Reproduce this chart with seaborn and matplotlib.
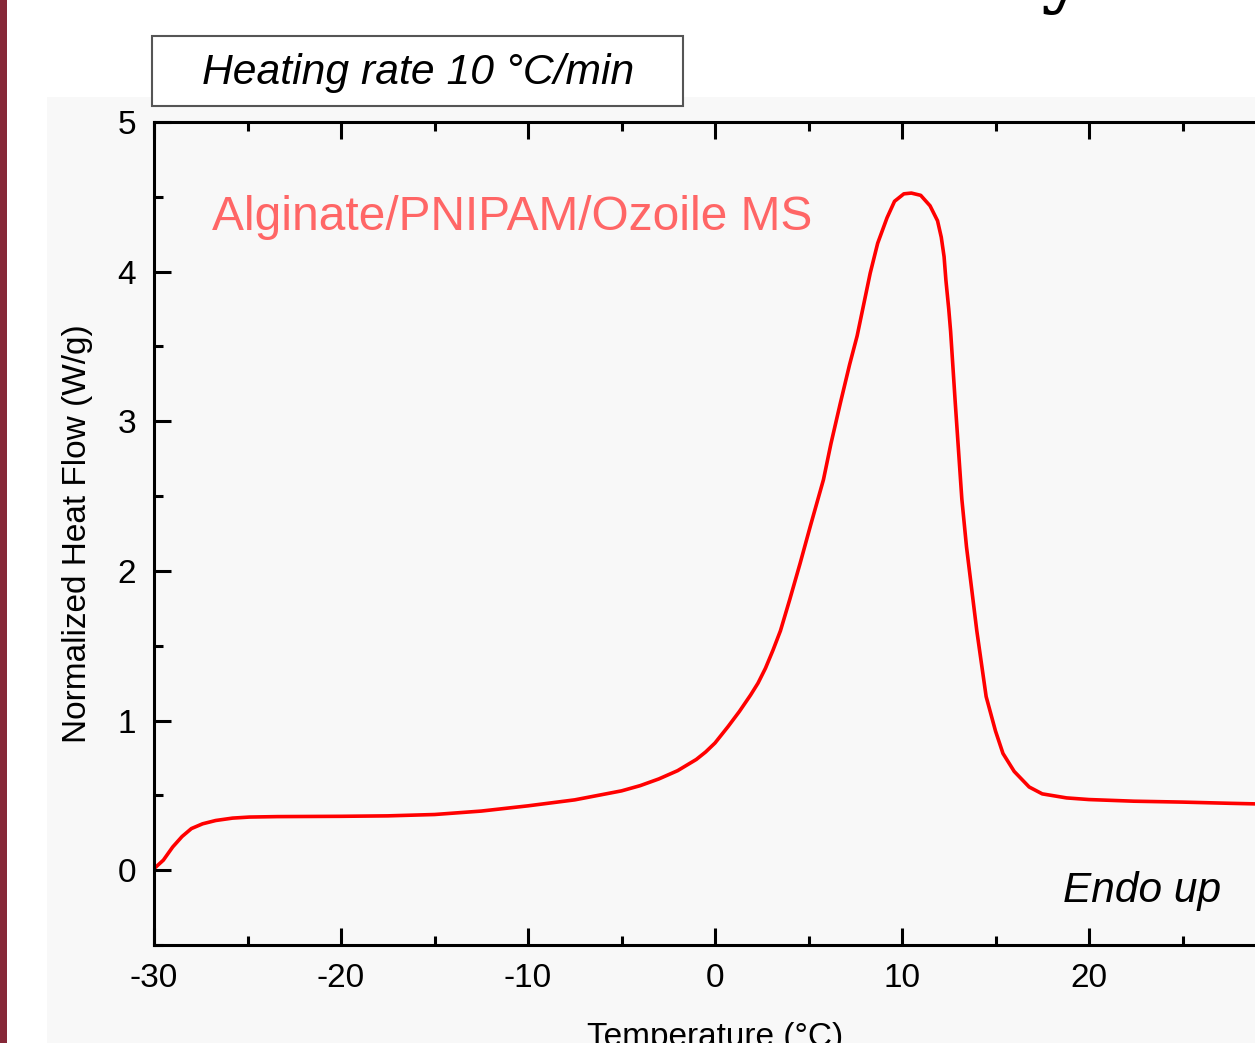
import pandas as pd
import seaborn as sns
import matplotlib.pyplot as plt
from matplotlib.patches import Rectangle
from matplotlib.ticker import MultipleLocator

# DSC curve (Temperature in C, heat flow in W/g)
temp = [-30, -29.5, -29.0, -28.5, -28.0, -27.4, -26.7, -25.8, -24.9, -23.4,
        -20, -17.5, -15, -12.5, -10, -7.5, -5, -4, -3, -2,
        -1, -0.5, 0, 0.7, 1.3, 1.9, 2.3, 2.7, 3.1, 3.5, 4.0, 4.55,
        5.1, 5.8, 6.2, 6.7, 7.2, 7.6, 7.9, 8.3, 8.7, 9.2,
        9.6, 10.1, 10.5, 11.0, 11.5, 11.9, 12.1, 12.25, 12.35, 12.5,
        12.6, 12.85, 13.2, 13.45, 14.0, 14.5, 15.0, 15.4, 16.0, 16.8,
        17.5, 18.8, 20, 22.4, 25, 27.5, 30]
heat_flow = [0.01, 0.067, 0.155, 0.225, 0.278, 0.31, 0.332, 0.348, 0.355, 0.358,
             0.36, 0.363, 0.372, 0.395, 0.43, 0.47, 0.53, 0.565, 0.61, 0.665,
             0.74, 0.79, 0.85, 0.96, 1.06, 1.17, 1.25, 1.35, 1.47, 1.60, 1.81, 2.05,
             2.30, 2.61, 2.85, 3.12, 3.38, 3.57, 3.75, 3.99, 4.19, 4.36,
             4.47, 4.52, 4.525, 4.51, 4.44, 4.34, 4.23, 4.10, 3.94, 3.75,
             3.60, 3.12, 2.48, 2.16, 1.60, 1.16, 0.93, 0.78, 0.66, 0.556,
             0.51, 0.483, 0.472, 0.461, 0.455, 0.447, 0.44]

xticks = [-30, -20, -10, 0, 10, 20]
yticks = [0, 1, 2, 3, 4, 5]

df = pd.DataFrame({'Temperature': temp, 'Heat Flow': heat_flow})

sns.set_style('ticks')
plt.rcParams['font.family'] = ['Liberation Sans', 'DejaVu Sans']
plt.rcParams['text.color'] = 'black'
plt.rcParams['axes.labelcolor'] = 'black'
plt.rcParams['axes.unicode_minus'] = False

fig = plt.figure(figsize=(12.55, 10.43), dpi=100, facecolor='white')

# slide decorations: maroon bar on the left, grey panel, cut-off title glyph
fig.patches.append(Rectangle((0, 0), 7 / 1255, 1, transform=fig.transFigure,
                             facecolor='#862838', edgecolor='none', zorder=-2))
fig.patches.append(Rectangle((47 / 1255, 0), 1, 1 - 97 / 1043, transform=fig.transFigure,
                             facecolor='#f8f8f8', edgecolor='none', zorder=-2))
fig.text(1040 / 1255, 1 + 3 / 1043, 'y', fontsize=60, family='DejaVu Serif',
         va='baseline', ha='left', color='black')

ax = fig.add_axes([154 / 1255, 1 - 945 / 1043, 1122 / 1255, 823 / 1043])
ax.set_facecolor('none')

sns.lineplot(data=df, x='Temperature', y='Heat Flow', color='#ff0000',
             linewidth=2.6, ax=ax)

ax.set_xlim(-30, 30)
ax.set_ylim(-0.5, 5)
ax.set_xticks(xticks)
ax.set_yticks(yticks)
ax.xaxis.set_minor_locator(MultipleLocator(5))
ax.yaxis.set_minor_locator(MultipleLocator(0.5))
ax.tick_params(which='both', direction='in', top=True, right=True, width=2.2,
               colors='black', labelsize=24)
ax.tick_params(which='major', length=12)
ax.tick_params(which='minor', length=6.5)
ax.tick_params(axis='x', pad=13)
ax.tick_params(axis='y', pad=13)
for s in ax.spines.values():
    s.set_linewidth(2.2)
    s.set_color('black')

ax.set_xlabel('Temperature (°C)', fontsize=24, va='top')
ax.xaxis.set_label_coords(0.5, -0.093)
ax.set_ylabel('Normalized Heat Flow (W/g)', fontsize=24, va='center')
ax.yaxis.set_label_coords(-0.0686, 0.5)

# annotations
fig.patches.append(Rectangle((152 / 1255, 1 - 106 / 1043), 531 / 1255, 70 / 1043,
                             transform=fig.transFigure, facecolor='white',
                             edgecolor='#555555', linewidth=1.5, zorder=-1))
fig.text(418 / 1255, 1 - 73 / 1043, 'Heating rate 10 °C/min', fontsize=30.7,
         style='italic', ha='center', va='center')
fig.text(212 / 1255, 1 - 230 / 1043, 'Alginate/PNIPAM/Ozoile MS', fontsize=34.5,
         color='#ff6666', ha='left', va='baseline')
fig.text(1063 / 1255, 1 - 902 / 1043, 'Endo up', fontsize=30.5, style='italic',
         ha='left', va='baseline')

fig.savefig('out.png', dpi=100)
